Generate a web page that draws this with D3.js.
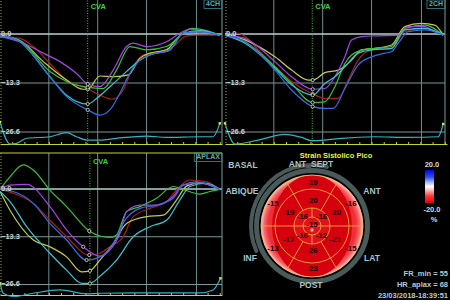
<!DOCTYPE html>
<html lang="en">
<head>
<meta charset="UTF-8">
<title>Strain Sistolico Pico</title>
<style>
body { margin: 0; background: #000; }
svg { display: block; }
text { font-family: 'Liberation Sans', Arial, sans-serif; font-weight: 700; }
</style>
</head>
<body>
<div id="vis"></div>
<script src="https://d3js.org/d3.v7.min.js"></script>
<script>
const width = 450;
const height = 300;

// ---- strain curves, [time % of cycle, strain %] ----
const ch4Red    = [[0,-0.7],[9,-1.2],[15,-3.4],[22.5,-8.0],[30,-12.5],[39.5,-14.8],[45,-16.6],[51,-17.7],[55.5,-15.2],[60,-8.9],[64.5,-5.7],[72,-4.8],[78,-3.4],[84,-0.5],[90,-0.3],[99,-0.3]];
const ch4Purple = [[0,-0.7],[9,-2.1],[19.5,-5.2],[27,-7.5],[34.5,-10.7],[39.5,-13.6],[45,-14.3],[51,-9.8],[57,-3.4],[60,-2.5],[66,-3.4],[75,-2.1],[81,0.2],[85.5,1.3],[93,0.6],[99,-0.3]];
const ch4Blue   = [[0,-0.3],[9,-2.1],[22.5,-11.6],[30,-17.0],[39.5,-20.6],[45,-22.0],[49.5,-20.6],[54,-16.1],[58.5,-10.7],[63,-7.1],[67.5,-5.7],[76.5,-4.3],[82.5,0.2],[90,0.6],[99,-0.3]];
const ch4Cyan   = [[0,-0.3],[9,-2.1],[22.5,-11.6],[30,-16.6],[39.5,-19.0],[43.5,-17.5],[49.5,-14.3],[57,-10.2],[63,-7.1],[67.5,-5.7],[76.5,-4.3],[82.5,0.2],[90,0.9],[99,-0.3]];
const ch4Green  = [[0,-0.5],[9,-1.8],[22.5,-10.2],[30,-12.9],[39.5,-14.5],[46.5,-14.8],[52.5,-9.8],[58.5,-3.4],[66,-4.3],[75,-3.4],[82.5,0.2],[86.3,1.5],[93,0.9],[99,-0.3]];
const ch4Olive  = [[0,-0.5],[9,-1.8],[19.5,-7.5],[30,-12.5],[37.5,-15.0],[39.5,-15.0],[45,-11.4],[51,-11.6],[57.8,-11.1],[63,-6.6],[67.5,-5.2],[75,-4.3],[82.5,0.2],[90,0.6],[99,-0.3]];
const ch4Ecg    = [[0,1.0],[4.5,0],[7.5,0.03],[12,0.26],[22.5,0.33],[30,0.52],[34.5,0.33],[39,0.18],[45,0.18],[52.5,0.26],[66,0.36],[75,0.3],[90,0.33],[96,0.33],[99,0.94]];

const ch2Purple = [[0,-0.3],[9,-1.2],[22.5,-7.5],[30,-11.6],[39.5,-15.0],[45,-14.8],[49.5,-11.6],[54,-6.2],[57,-1.6],[61.5,-0.7],[67.5,-0.5],[78,-0.3],[82.5,2.0],[90,2.0],[94.5,0.6],[98.3,-0.3]];
const ch2Red    = [[0,0.2],[6,0.2],[9,-0.7],[15,-4.3],[22.5,-8.9],[30,-12.9],[39.5,-16.3],[45,-17.5],[51,-17.5],[55.5,-12.5],[60,-7.1],[66,-4.3],[75,-3.9],[81,0.6],[90,1.5],[98.3,-0.3]];
const ch2Green  = [[0,-0.3],[9,-2.1],[22.5,-8.9],[30,-13.4],[39.5,-18.6],[45,-18.4],[49.5,-14.3],[54,-8.0],[57,-5.7],[63,-4.2],[67.5,-3.9],[75,-3.4],[81,1.5],[90,2.4],[98.3,-0.3]];
const ch2Olive  = [[0,0.2],[9,-1.6],[22.5,-6.2],[30,-9.8],[37.5,-12.5],[39.5,-12.5],[45,-10.5],[51,-9.8],[57,-7.1],[61.5,-4.3],[67.5,-3.9],[75,-3.0],[81,2.0],[88.5,2.9],[94.5,2.4],[98.3,-0.3]];
const ch2Cyan   = [[0,-0.3],[9,-2.5],[22.5,-9.3],[30,-13.8],[39.5,-16.6],[45,-13.4],[49.5,-11.6],[54,-8.9],[60,-5.2],[66,-4.3],[75,-3.9],[81,1.1],[90,1.5],[98.3,-0.3]];
const ch2Blue   = [[0,-0.3],[9,-2.1],[22.5,-9.8],[30,-15.2],[39.5,-19.7],[45,-20.2],[48.8,-20.2],[54,-14.8],[60,-8.4],[66,-6.2],[72,-5.2],[75,-4.8],[78,-2.5],[82.5,0.6],[90,1.1],[98.3,-0.3]];
const ch2Ecg    = [[0,0.94],[4.5,0],[15,0.18],[27,0.44],[34.5,0.3],[39,0.15],[45,0.18],[52.5,0.26],[67.5,0.33],[82.5,0.3],[96,0.33],[98.3,0.91]];

const alGreen   = [[0,-0.1],[4.5,3.4],[10.5,6.7],[15,5.3],[22.5,-0.3],[30,-4.9],[40.2,-11.7],[45,-13.1],[49.5,-13.5],[52.5,-12.8],[57,-6.3],[63,-4.9],[70.5,-2.6],[78,0.7],[82.5,-0.1],[90,-1.4],[94.5,-0.7],[99,-0.1]];
const alPurple  = [[0,-0.1],[4.5,1.1],[12,1.3],[22.5,-4.9],[30,-11.4],[37.5,-16.1],[45,-18.7],[49.5,-17.0],[54,-12.4],[57,-6.3],[63,-4.5],[70.5,-4.5],[78,-2.1],[82.5,1.1],[90,1.6],[99,-0.1]];
const alRed     = [[0,-0.1],[6,-1.2],[15,-4.0],[22.5,-8.7],[30,-13.3],[40.2,-18.4],[45,-17.9],[49.5,-16.1],[55.5,-13.3],[60,-7.7],[67.5,-5.4],[75,-3.5],[81,0.7],[85.5,2.5],[93,2.0],[99,-0.1]];
const alBlue    = [[0,-0.1],[6,-0.7],[15,-4.0],[22.5,-9.6],[30,-14.2],[39,-19.8],[45,-18.9],[51,-15.2],[56.3,-8.7],[63,-5.4],[70.5,-4.5],[78,-2.6],[82.5,1.1],[88.5,2.0],[99,-0.1]];
const alOlive   = [[0,-0.7],[4.5,-5.9],[15,-14.2],[22.5,-16.1],[30,-18.9],[36.8,-23.1],[40.5,-22.8],[45,-19.8],[51,-15.2],[57,-9.6],[66,-7.7],[73.5,-7.3],[79.5,-3.1],[84,0.8],[90,1.8],[99,-0.1]];
const alCyan    = [[0,-0.7],[4.5,-3.5],[12,-10.5],[22.5,-17.9],[30,-22.6],[36.8,-26.3],[40.5,-26.3],[45,-24.3],[52.5,-19.8],[60,-13.3],[67.5,-10.5],[75,-8.7],[81,-3.1],[85.5,0.7],[93,1.6],[99,-0.1]];
const alEcg     = [[0,0.53],[1.5,0.08],[6,-0.08],[15,0.08],[27,0.23],[39,0.05],[45,0.08],[60,0.1],[75,0.1],[90,0.1],[96,0.23],[99.3,0.76]];

const viewNames = ["4CH", "2CH", "APLAX"];
const cvaTimes = [39.5, 39.3, 40.5];
const strainTicks = [0, -13.3, -26.6];
const gridTimes = [22, 44, 66, 88.5];

// ---- bull's eye ----
const basalAngles = [90, 30, -30, -90, -150, 150];
const basalValues = [-19, -16, -15, -23, -13, -15];
const midValues   = [-20, -20, -21, -26, -17, -19];
const apicalAngles = [45, 135, -135, -45];
const apicalValues = [-16, -16, -16, -12];
const apexValue = -15;
const wallLabels = ["BASAL", "ABIQUE", "ANT_SEPT", "ANT", "INF", "LAT", "POST"];
const scaleLabels = ["20.0", "-20.0", "%"];
const infoLines = ["FR_min = 55", "HR_aplax = 68", "23/03/2018-18:39:51"];

const colors = {
  red: "#b01c1c", purple: "#a444e4", blue: "#2f6fe4",
  cyan: "#36c6d2", green: "#36c236", olive: "#c4cc44"
};

const views = [
  { x0: 0, w: 222, zeroY: 34, lowY: 132, bottom: 144, top: -2, ecg: ch4Ecg,
    curves: [[ch4Red, "red"], [ch4Olive, "olive"], [ch4Green, "green"], [ch4Purple, "purple"], [ch4Cyan, "cyan"], [ch4Blue, "blue"]] },
  { x0: 225, w: 220, zeroY: 34, lowY: 132, bottom: 144, top: -2, ecg: ch2Ecg,
    curves: [[ch2Red, "red"], [ch2Olive, "olive"], [ch2Green, "green"], [ch2Purple, "purple"], [ch2Cyan, "cyan"], [ch2Blue, "blue"]] },
  { x0: 0, w: 222, zeroY: 189, lowY: 284.5, bottom: 295, top: 153, ecg: alEcg,
    curves: [[alRed, "red"], [alOlive, "olive"], [alGreen, "green"], [alPurple, "purple"], [alCyan, "cyan"], [alBlue, "blue"]] }
];

let svg = d3.select("#vis").append("svg")
  .attr("width", width)
  .attr("height", height)
  .style("background", "#000");

views.forEach(function(v, i) {
  let x = d3.scaleLinear().domain([0, 100]).range([v.x0, v.x0 + 222]);
  let y = d3.scaleLinear().domain([0, -26.6]).range([v.zeroY, v.lowY]);
  let yEcg = d3.scaleLinear().domain([0, 1]).range([v.bottom, v.bottom - 22]);
  let g = svg.append("g");

  // grid
  g.selectAll(".vgrid").data(gridTimes).enter().append("line")
    .attr("x1", d => x(d)).attr("x2", d => x(d))
    .attr("y1", v.top).attr("y2", v.bottom)
    .attr("stroke", "#6d8c8c").attr("stroke-width", 1);
  g.selectAll(".hgrid").data(strainTicks).enter().append("line")
    .attr("x1", v.x0).attr("x2", v.x0 + v.w)
    .attr("y1", d => y(d)).attr("y2", d => y(d))
    .attr("stroke", (d, j) => j === 0 ? "#b4d2d2" : "#7c9898")
    .attr("stroke-width", (d, j) => j === 0 ? 1.4 : 1);

  // right border and left dotted edge
  g.append("line").attr("x1", v.x0 + v.w).attr("x2", v.x0 + v.w)
    .attr("y1", v.top).attr("y2", v.bottom)
    .attr("stroke", "#7c9a9a");
  g.append("line").attr("x1", v.x0 + 1).attr("x2", v.x0 + 1)
    .attr("y1", v.top).attr("y2", v.bottom)
    .attr("stroke", "#9ab030").attr("stroke-dasharray", "1,2");

  // bottom time axis
  let axis = g.append("g").attr("transform", "translate(0," + v.bottom + ")")
    .call(d3.axisTop(x).tickValues(d3.range(5.5, 100, 5.5)).tickSize(2).tickSizeOuter(0).tickFormat(""));
  axis.select(".domain").attr("stroke", "#c4d434").attr("stroke-width", 1.2);
  axis.selectAll(".tick line").attr("stroke", "#c4d434");

  // top border (APLAX)
  if (i === 2) {
    g.append("line").attr("x1", v.x0).attr("x2", v.x0 + v.w)
      .attr("y1", v.top).attr("y2", v.top)
      .attr("stroke", "#c4d434").attr("stroke-width", 1.2);
  }

  // CVA marker line
  g.append("line").attr("x1", x(cvaTimes[i])).attr("x2", x(cvaTimes[i]))
    .attr("y1", v.top).attr("y2", v.bottom)
    .attr("stroke", "#3cc83c").attr("stroke-dasharray", "1,1.5");
  g.append("text").attr("x", x(cvaTimes[i]) + 3).attr("y", v.top + 11)
    .attr("fill", "#40d040").attr("font-size", 7.5).text("CVA");

  // strain curves
  let line = d3.line().x(d => x(d[0])).y(d => y(d[1])).curve(d3.curveMonotoneX);
  v.curves.forEach(function(c) {
    g.append("path").datum(c[0]).attr("d", line)
      .attr("fill", "none").attr("stroke", colors[c[1]]).attr("stroke-width", 1.2);
  });
  v.curves.forEach(function(c) {
    let p = c[0].reduce((a, b) => Math.abs(b[0] - cvaTimes[i]) < Math.abs(a[0] - cvaTimes[i]) ? b : a);
    g.append("circle").attr("cx", x(p[0])).attr("cy", y(p[1])).attr("r", 1.6)
      .attr("fill", "#000").attr("stroke", "#d8e8c8").attr("stroke-width", 0.8);
  });

  // ecg trace
  let ecgLine = d3.line().x(d => x(d[0])).y(d => yEcg(d[1])).curve(d3.curveMonotoneX);
  g.append("path").datum(v.ecg).attr("d", ecgLine)
    .attr("fill", "none").attr("stroke", "#30b4c4").attr("stroke-width", 1.2);
  [v.ecg[0], v.ecg[v.ecg.length - 1]].forEach(function(d) {
    g.append("rect").attr("x", x(d[0]) - 1.2).attr("y", yEcg(d[1]) - 1.2)
      .attr("width", 2.4).attr("height", 2.4).attr("fill", "#d0e850");
  });

  // strain tick labels
  g.selectAll(".ylab").data(strainTicks).enter().append("text")
    .attr("x", v.x0 + 1).attr("y", d => y(d))
    .attr("dominant-baseline", "middle")
    .attr("fill", "#c4d4d4").attr("font-size", 7.5).attr("font-weight", 400)
    .text(d => d3.format(".1f")(d));

  // view label box
  let boxTop = Math.max(v.top, 0);
  let lab = g.append("text").attr("y", boxTop + 4.5)
    .attr("dominant-baseline", "middle").attr("text-anchor", "end")
    .attr("x", v.x0 + v.w - 2)
    .attr("fill", "#5aaab0").attr("font-size", 7).attr("font-weight", 400)
    .text(viewNames[i]);
  let lw = lab.node().getComputedTextLength();
  g.append("rect").attr("x", v.x0 + v.w - lw - 4).attr("y", boxTop)
    .attr("width", lw + 4).attr("height", 8.5)
    .attr("fill", "none").attr("stroke", "#3a8c90").attr("stroke-width", 0.8);
});

// ---- bull's eye plot ----
const cx = 312, cy = 226, R = 51;
const rApex = 9, rApical = 18, rMid = 37;
let bull = svg.append("g").attr("transform", "translate(" + cx + "," + cy + ")");
let defs = svg.append("defs");
let rim = defs.append("radialGradient").attr("id", "rim");
rim.append("stop").attr("offset", "0%").attr("stop-color", "#ec2a30");
rim.append("stop").attr("offset", "86%").attr("stop-color", "#ee3036");
rim.append("stop").attr("offset", "94%").attr("stop-color", "#f66a6e");
rim.append("stop").attr("offset", "100%").attr("stop-color", "#ffc4c4");
let spot = defs.append("radialGradient").attr("id", "spot");
spot.append("stop").attr("offset", "0%").attr("stop-color", "#fff").attr("stop-opacity", 0.9);
spot.append("stop").attr("offset", "100%").attr("stop-color", "#fff").attr("stop-opacity", 0);

// gray rings
bull.append("circle").attr("r", 55.5).attr("fill", "none")
  .attr("stroke", "#4a5a5a").attr("stroke-width", 5);
bull.append("path")
  .attr("d", d3.arc().innerRadius(59).outerRadius(63).startAngle(-116 * Math.PI / 180).endAngle(16 * Math.PI / 180).cornerRadius(2)())
  .attr("fill", "#4a5a5a");

bull.append("circle").attr("r", R).attr("fill", "url(#rim)");
bull.append("ellipse").attr("rx", 40).attr("ry", R).attr("fill", "#d6000e");
bull.append("circle").attr("r", rApical).attr("fill", "#e2101a");
bull.append("circle").attr("cy", 4).attr("r", 2.5).attr("fill", "url(#spot)");

// ring and segment lines
const lineColor = "#eaa838";
bull.selectAll(".ring").data([rApex, rApical, rMid, R]).enter().append("circle")
  .attr("r", d => d).attr("fill", "none")
  .attr("stroke", (d) => d === R ? "#f0c060" : lineColor).attr("stroke-width", 0.9);
const rad = a => a * Math.PI / 180;
[0, 60, 120].forEach(function(a) {
  bull.append("line")
    .attr("x1", (a === 0 ? -R : rApical * Math.cos(rad(a)))).attr("y1", (a === 0 ? 0 : -rApical * Math.sin(rad(a))))
    .attr("x2", R * Math.cos(rad(a))).attr("y2", -R * Math.sin(rad(a)))
    .attr("stroke", lineColor).attr("stroke-width", 0.9);
  if (a !== 0) {
    bull.append("line")
      .attr("x1", -rApical * Math.cos(rad(a))).attr("y1", rApical * Math.sin(rad(a)))
      .attr("x2", -R * Math.cos(rad(a))).attr("y2", R * Math.sin(rad(a)))
      .attr("stroke", lineColor).attr("stroke-width", 0.9);
  }
});
[-1, 1].forEach(function(s) {
  bull.append("line").attr("x1", 0).attr("x2", 0)
    .attr("y1", s * rApex).attr("y2", s * rApical)
    .attr("stroke", lineColor).attr("stroke-width", 0.9);
});

// segment values
function segText(r, ang, val) {
  bull.append("text")
    .attr("x", r * Math.cos(rad(ang))).attr("y", -r * Math.sin(rad(ang)))
    .attr("text-anchor", "middle").attr("dominant-baseline", "middle")
    .attr("fill", "#1e0000").attr("font-size", 8).text(val);
}
basalAngles.forEach((a, k) => segText(a === 90 || a === -90 ? 43 : 45, a, basalValues[k]));
basalAngles.forEach((a, k) => segText(a === 90 || a === -90 ? 25 : 27, a, midValues[k]));
apicalAngles.forEach((a, k) => segText(13.5, a, apicalValues[k]));
segText(1, 90, apexValue);

// wall labels
const wallPos = [[243, 166], [242, 192], [311, 165], [372, 192], [250, 259], [372, 259], [311, 286]];
svg.selectAll(".wall").data(wallLabels).enter().append("text")
  .attr("x", (d, k) => wallPos[k][0]).attr("y", (d, k) => wallPos[k][1])
  .attr("text-anchor", "middle").attr("dominant-baseline", "middle")
  .attr("fill", "#a8c4cc").attr("font-size", 8.5).text(d => d);

svg.append("text").attr("x", 336).attr("y", 156)
  .attr("text-anchor", "middle").attr("dominant-baseline", "middle")
  .attr("fill", "#e4f044").attr("font-size", 7.5).text("Strain Sistolico Pico");

// colour bar
let bar = defs.append("linearGradient").attr("id", "bar").attr("x1", 0).attr("x2", 0).attr("y1", 0).attr("y2", 1);
[["0%", "#0000e8"], ["22%", "#3050ff"], ["38%", "#a8c0ff"], ["50%", "#ffffff"], ["62%", "#ffb4b4"], ["78%", "#ff3c3c"], ["100%", "#e00000"]]
  .forEach(s => bar.append("stop").attr("offset", s[0]).attr("stop-color", s[1]));
let cbar = d3.scaleLinear().domain([20, -20]).range([170, 203]);
svg.append("rect").attr("x", 425).attr("y", cbar(20)).attr("width", 9)
  .attr("height", cbar(-20) - cbar(20)).attr("fill", "url(#bar)");
svg.selectAll(".cbl").data(scaleLabels).enter().append("text")
  .attr("x", (d, k) => k === 2 ? 434 : 432)
  .attr("y", (d, k) => [165, 210, 220][k])
  .attr("text-anchor", "middle").attr("dominant-baseline", "middle")
  .attr("fill", "#d0dcdc").attr("font-size", 7.5).text(d => d);

// info text
svg.selectAll(".info").data(infoLines).enter().append("text")
  .attr("x", 448).attr("y", (d, k) => 274 + k * 11)
  .attr("text-anchor", "end").attr("dominant-baseline", "middle")
  .attr("fill", "#b4ccd2").attr("font-size", 7.5).text(d => d);
</script>
</body>
</html>
